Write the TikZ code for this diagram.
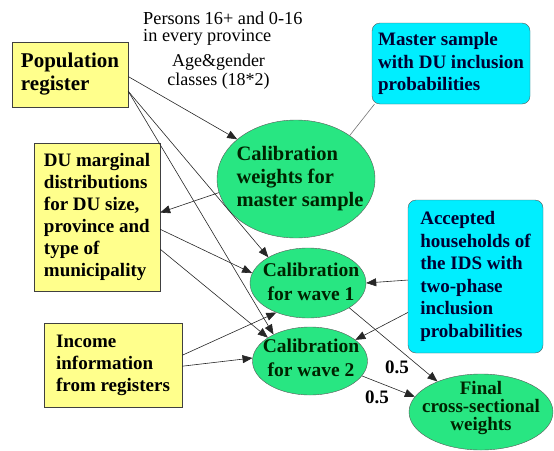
\documentclass[tikz,border=0pt]{standalone}
\usepackage{fontspec}
\setmainfont{Liberation Serif}
\usetikzlibrary{arrows.meta,shapes.geometric}
\definecolor{regyellow}{RGB}{255,255,140}
\definecolor{samplecyan}{RGB}{0,238,255}
\definecolor{calibgreen}{RGB}{40,230,130}
\definecolor{navytext}{RGB}{0,0,50}
\definecolor{greentext}{RGB}{0,35,0}
\begin{document}
\begin{tikzpicture}[x=1pt, y=-1pt,
    regbox/.style={draw=black!75, fill=regyellow, align=left, inner sep=0pt, font=\bfseries\fontsize{19}{22}\selectfont},
    samplebox/.style={draw=black!65, fill=samplecyan, rounded corners=8pt, align=left, inner sep=0pt, text=navytext, font=\bfseries\fontsize{19}{22.5}\selectfont},
    calib/.style={ellipse, draw=black!65, fill=calibgreen, inner sep=0pt},
    calibtext/.style={inner sep=0pt, text=greentext, font=\bfseries\fontsize{19.5}{23.5}\selectfont},
    flow/.style={draw=black!85, line width=0.6pt, -{Triangle[length=10pt,width=8pt]}},
    plainline/.style={draw=black!55, line width=0.6pt},
    weightlbl/.style={inner sep=0pt, font=\bfseries\fontsize{19}{22}\selectfont}]
    \useasboundingbox (0,0) rectangle (554,450);

    % register data
    \node[regbox, minimum width=116pt, minimum height=65pt, font=\bfseries\fontsize{21}{23}\selectfont] (pop) at (70,74.5) {Population\\register};
    \node[regbox, minimum width=126pt, minimum height=148pt] (du) at (97,217) {DU marginal\\distributions\\for DU size,\\province and\\type of\\municipality};
    \node[regbox, minimum width=138pt, minimum height=84pt] (inc) at (113,365) {Income\\information\\from registers};

    % samples
    \node[samplebox, minimum width=158pt, minimum height=81pt] (ms) at (451,63.5) {Master sample\\with DU inclusion\\probabilities};
    \node[samplebox, minimum width=135pt, minimum height=153pt] (acc) at (475.5,276.5) {Accepted\\households of\\the IDS with\\two-phase\\inclusion\\probabilities};

    % calibration steps
    \node[calib, minimum width=158pt, minimum height=118pt, label={[calibtext, align=left, xshift=4pt, font=\bfseries\fontsize{20.5}{23}\selectfont]center:{Calibration\\weights for\\master sample}}] (mcal) at (296,179) {};
    \node[calib, minimum width=116pt, minimum height=70pt, label={[calibtext, align=center, xshift=3pt, yshift=1pt]center:{Calibration\\for wave 1}}] (w1) at (308,283) {};
    \node[calib, minimum width=115pt, minimum height=68pt, label={[calibtext, align=center, xshift=1pt, yshift=3pt]center:{Calibration\\for wave 2}}] (w2) at (310,361) {};
    \node[calib, minimum width=144pt, minimum height=76pt, label={[calibtext, align=center, yshift=4pt, font=\bfseries\fontsize{19}{18}\selectfont]center:{Final\\cross-sectional\\weights}}] (fin) at (481,412) {};

    % notes
    \node[anchor=north west, align=left, inner sep=0pt, font=\fontsize{18.3}{16.5}\selectfont] (persons) at (143,12) {Persons 16+ and 0-16\\in every province};
    \node[anchor=north, align=center, inner sep=0pt, font=\fontsize{18}{19}\selectfont] (agecls) at (218.5,54) {Age\&gender\\classes (18*2)};

    % connectors
    \draw[flow] (pop.-2.5) -- (mcal.146.5);
    \draw[flow] (pop.-16.8) -- (w1.147.8);
    \draw[flow] (pop.-16.8) -- (w2.144.8);
    \draw[flow] (mcal.190.4) -- (du.4.5);
    \draw[plainline] (ms.208.7) -- (mcal.39);
    \draw[flow] (du.-11.7) -- (w1.170);
    \draw[flow] (du.-27.6) -- (w2.151.6);
    \draw[flow] (inc.8.2) -- (w1.223);
    \draw[flow] (inc.-1.7) -- (w2.177);
    \draw[flow] (acc.183) -- (w1.0);
    \draw[flow] (acc.208.8) -- (w2.25);
    \draw[flow] (w1.-31.5) -- (fin.145.7);
    \draw[flow] (w2.-16.5) -- (fin.167);
    \node[weightlbl] (w1lbl) at (397,367) {0.5};
    \node[weightlbl] (w2lbl) at (377,397) {0.5};
\end{tikzpicture}
\end{document}
